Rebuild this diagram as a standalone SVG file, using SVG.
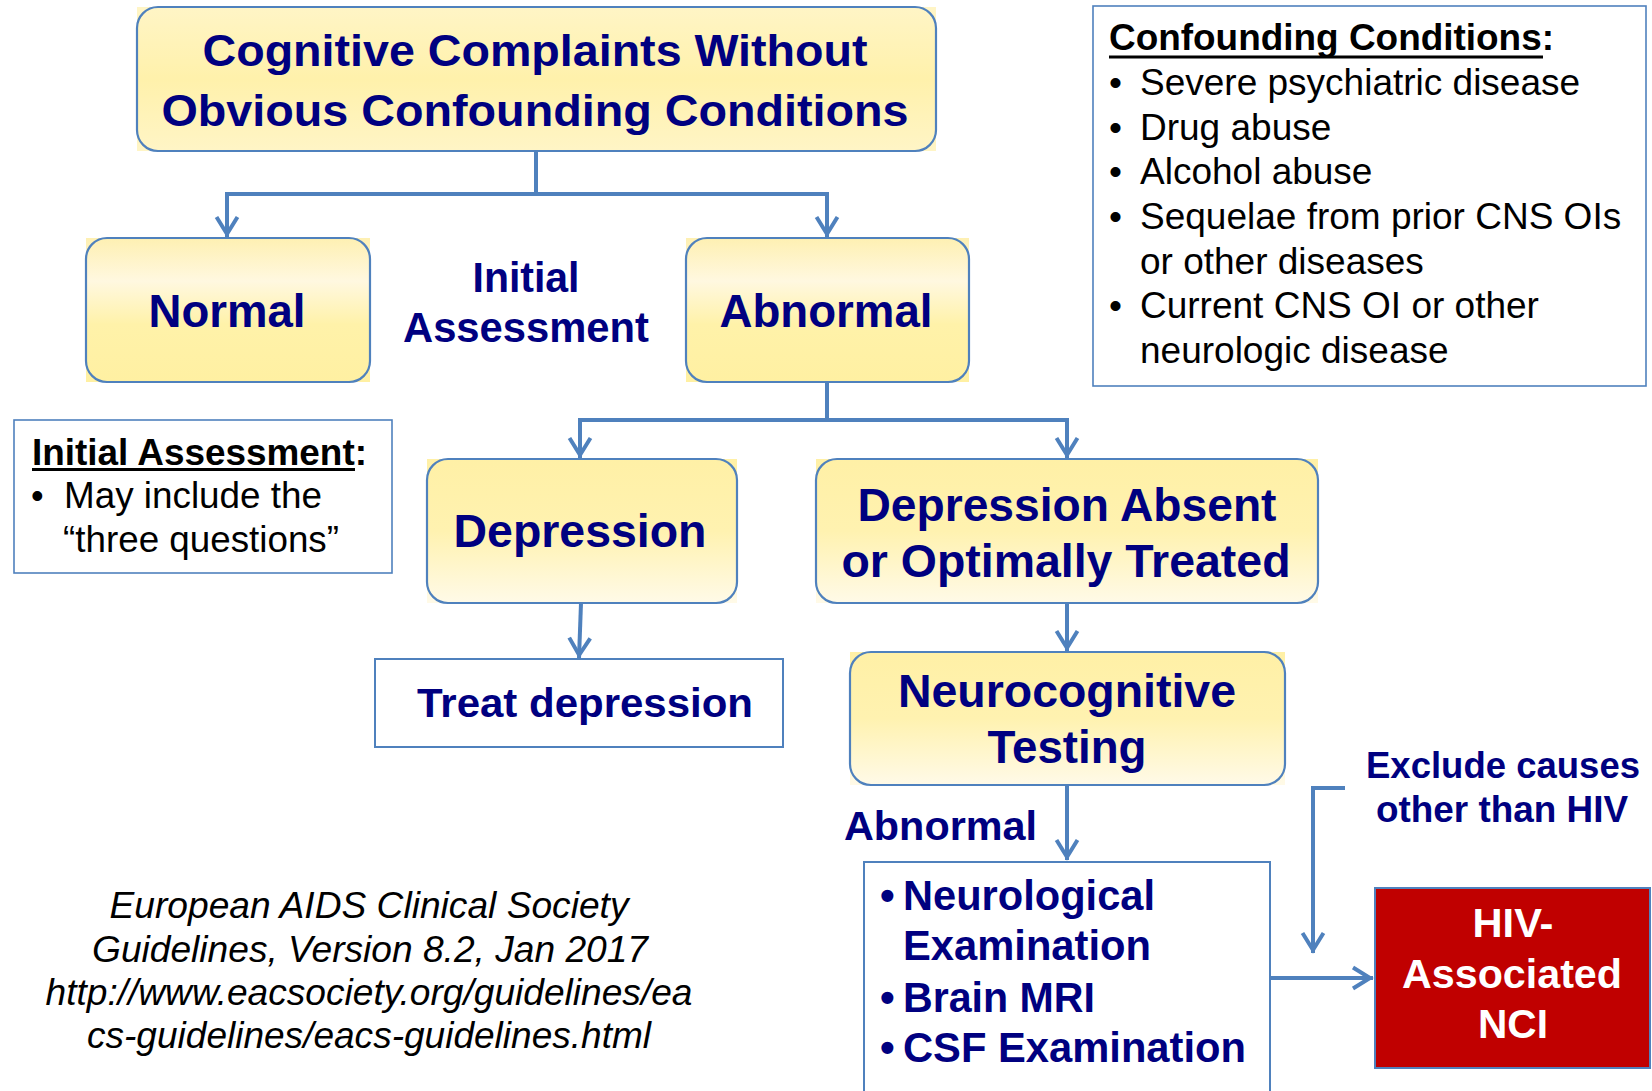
<svg xmlns="http://www.w3.org/2000/svg" width="1652" height="1091" viewBox="0 0 1652 1091">
  <defs>
    <style>
      .t { font-family: "Liberation Sans", Arial, Helvetica, sans-serif; }
      .nb { font-weight: bold; fill: #000080; text-anchor: middle; }
      .nbl { font-weight: bold; fill: #000080; }
      .blk { fill: #000000; }
      .wb { font-weight: bold; fill: #FFFFFF; text-anchor: middle; }
      .cite { font-style: italic; fill: #000000; text-anchor: middle; font-size: 37px; }
      .outline { fill: none; stroke: #4F81BD; stroke-width: 2.2; }
      .plain { fill: #FFFFFF; stroke: #4F81BD; stroke-width: 2; }
      .conn { fill: none; stroke: #4F81BD; stroke-width: 4; stroke-linejoin: miter; }
    </style>
    <linearGradient id="gTop" x1="0" y1="0" x2="0" y2="1">
      <stop offset="0" stop-color="#FFF5C6"/>
      <stop offset="0.5" stop-color="#FFF1AB"/>
      <stop offset="1" stop-color="#FFF5C6"/>
    </linearGradient>
    <linearGradient id="gMid" x1="0" y1="0" x2="0" y2="1">
      <stop offset="0" stop-color="#FEF0B2"/>
      <stop offset="0.3" stop-color="#FFF8E0"/>
      <stop offset="0.6" stop-color="#FFF2A9"/>
      <stop offset="1" stop-color="#FFF0A2"/>
    </linearGradient>
    <linearGradient id="gLow" x1="0" y1="0" x2="0" y2="1">
      <stop offset="0" stop-color="#FFF0A6"/>
      <stop offset="0.5" stop-color="#FFF2B0"/>
      <stop offset="1" stop-color="#FFFAE8"/>
    </linearGradient>
    <marker id="arr" markerUnits="userSpaceOnUse" viewBox="-22 -13 26 26" markerWidth="26" markerHeight="26" refX="0" refY="0" orient="auto">
      <path d="M-20,-10.5 L-3,0 L-20,10.5" fill="none" stroke="#4F81BD" stroke-width="4"/>
    </marker>
  </defs>

  <rect width="1652" height="1091" fill="#FFFFFF"/>

  <!-- connectors -->
  <g id="connectors">
    <path class="conn" d="M536 151 V194 H227 V237" marker-end="url(#arr)"/>
    <path class="conn" d="M534 194 H827 V237" marker-end="url(#arr)"/>
    <path class="conn" d="M827 382 V420 H580 V458" marker-end="url(#arr)"/>
    <path class="conn" d="M825 420 H1067 V458" marker-end="url(#arr)"/>
    <path class="conn" d="M581 603 L579 658" marker-end="url(#arr)"/>
    <path class="conn" d="M1067 603 V651" marker-end="url(#arr)"/>
    <path class="conn" d="M1067 785 V860" marker-end="url(#arr)"/>
    <path class="conn" d="M1270 978 H1373" marker-end="url(#arr)"/>
    <path class="conn" d="M1345 788 H1313 V953" marker-end="url(#arr)"/>
  </g>

  <!-- start node -->
  <g id="node-complaints" class="t">
    <rect x="137" y="7" width="799" height="144" fill="url(#gTop)"/>
    <rect class="outline" x="137" y="7" width="799" height="144" rx="21"/>
    <text class="nb" x="535" y="66" font-size="44" textLength="665" lengthAdjust="spacingAndGlyphs">Cognitive Complaints Without</text>
    <text class="nb" x="535" y="126" font-size="44" textLength="747" lengthAdjust="spacingAndGlyphs">Obvious Confounding Conditions</text>
  </g>

  <g id="node-normal" class="t">
    <rect x="86" y="238" width="284" height="144" fill="url(#gMid)"/>
    <rect class="outline" x="86" y="238" width="284" height="144" rx="21"/>
    <text class="nb" x="227" y="327" font-size="46" textLength="157" lengthAdjust="spacingAndGlyphs">Normal</text>
  </g>

  <g id="label-initial" class="t">
    <text class="nb" x="526" y="292" font-size="42" textLength="107" lengthAdjust="spacingAndGlyphs">Initial</text>
    <text class="nb" x="526" y="342" font-size="42" textLength="246" lengthAdjust="spacingAndGlyphs">Assessment</text>
  </g>

  <g id="node-abnormal" class="t">
    <rect x="686" y="238" width="283" height="144" fill="url(#gMid)"/>
    <rect class="outline" x="686" y="238" width="283" height="144" rx="21"/>
    <text class="nb" x="826" y="327" font-size="46" textLength="213" lengthAdjust="spacingAndGlyphs">Abnormal</text>
  </g>

  <g id="note-initial" class="t">
    <rect x="14" y="420" width="378" height="153" fill="#FFFFFF" stroke="#4F81BD" stroke-width="1.6"/>
    <text class="blk" x="32" y="465" font-size="37" font-weight="bold" textLength="335" lengthAdjust="spacingAndGlyphs">Initial Assessment:</text>
    <rect x="32" y="468" width="323" height="3" fill="#000000"/>
    <text class="blk" x="31" y="508" font-size="36">•</text>
    <text class="blk" x="64" y="508" font-size="36" textLength="258" lengthAdjust="spacingAndGlyphs">May include the</text>
    <text class="blk" x="63" y="552" font-size="36" textLength="276" lengthAdjust="spacingAndGlyphs">“three questions”</text>
  </g>

  <g id="note-confounding" class="t">
    <rect x="1093" y="6" width="553" height="380" fill="#FFFFFF" stroke="#4F81BD" stroke-width="1.6"/>
    <text class="blk" x="1109" y="50" font-size="37" font-weight="bold" textLength="445" lengthAdjust="spacingAndGlyphs">Confounding Conditions:</text>
    <rect x="1109" y="55.5" width="434" height="3" fill="#000000"/>
    <g class="blk" font-size="37">
      <text x="1109" y="95">•</text>
      <text x="1140" y="95">Severe psychiatric disease</text>
      <text x="1109" y="140">•</text>
      <text x="1140" y="140">Drug abuse</text>
      <text x="1109" y="184">•</text>
      <text x="1140" y="184">Alcohol abuse</text>
      <text x="1109" y="229">•</text>
      <text x="1140" y="229">Sequelae from prior CNS OIs</text>
      <text x="1140" y="274">or other diseases</text>
      <text x="1109" y="318">•</text>
      <text x="1140" y="318">Current CNS OI or other</text>
      <text x="1140" y="363">neurologic disease</text>
    </g>
  </g>

  <g id="node-depression" class="t">
    <rect x="427" y="459" width="310" height="144" fill="url(#gLow)"/>
    <rect class="outline" x="427" y="459" width="310" height="144" rx="21"/>
    <text class="nb" x="580" y="547" font-size="46" textLength="253" lengthAdjust="spacingAndGlyphs">Depression</text>
  </g>

  <g id="node-depression-absent" class="t">
    <rect x="816" y="459" width="502" height="144" fill="url(#gLow)"/>
    <rect class="outline" x="816" y="459" width="502" height="144" rx="21"/>
    <text class="nb" x="1067" y="521" font-size="46" textLength="419" lengthAdjust="spacingAndGlyphs">Depression Absent</text>
    <text class="nb" x="1066" y="577" font-size="46" textLength="449" lengthAdjust="spacingAndGlyphs">or Optimally Treated</text>
  </g>

  <g id="node-treat" class="t">
    <rect class="plain" x="375" y="659" width="408" height="88"/>
    <text class="nb" x="585" y="717" font-size="41" textLength="336" lengthAdjust="spacingAndGlyphs">Treat depression</text>
  </g>

  <g id="node-neurocognitive" class="t">
    <rect x="850" y="652" width="435" height="133" fill="url(#gLow)"/>
    <rect class="outline" x="850" y="652" width="435" height="133" rx="21"/>
    <text class="nb" x="1067" y="707" font-size="46" textLength="338" lengthAdjust="spacingAndGlyphs">Neurocognitive</text>
    <text class="nb" x="1067" y="763" font-size="46" textLength="159" lengthAdjust="spacingAndGlyphs">Testing</text>
  </g>

  <g id="label-abnormal" class="t">
    <text class="nbl" x="844" y="840" font-size="41" textLength="193" lengthAdjust="spacingAndGlyphs">Abnormal</text>
  </g>

  <g id="node-workup" class="t">
    <rect class="plain" x="864" y="862" width="406" height="250"/>
    <g class="nbl" font-size="42">
      <text x="880" y="910">•</text>
      <text x="903" y="910" textLength="252" lengthAdjust="spacingAndGlyphs">Neurological</text>
      <text x="903" y="960" textLength="248" lengthAdjust="spacingAndGlyphs">Examination</text>
      <text x="880" y="1012">•</text>
      <text x="903" y="1012" textLength="192" lengthAdjust="spacingAndGlyphs">Brain MRI</text>
      <text x="880" y="1062">•</text>
      <text x="903" y="1062" textLength="343" lengthAdjust="spacingAndGlyphs">CSF Examination</text>
    </g>
  </g>

  <g id="label-exclude" class="t">
    <text class="nb" x="1503" y="778" font-size="37" textLength="274" lengthAdjust="spacingAndGlyphs">Exclude causes</text>
    <text class="nb" x="1502" y="822" font-size="37" textLength="252" lengthAdjust="spacingAndGlyphs">other than HIV</text>
  </g>

  <g id="node-hand" class="t">
    <rect x="1375" y="888" width="275" height="180" fill="#C00000" stroke="#4F81BD" stroke-width="2"/>
    <text class="wb" x="1513" y="937" font-size="41" textLength="81" lengthAdjust="spacingAndGlyphs">HIV-</text>
    <text class="wb" x="1512" y="988" font-size="41" textLength="220" lengthAdjust="spacingAndGlyphs">Associated</text>
    <text class="wb" x="1513" y="1038" font-size="41" textLength="70" lengthAdjust="spacingAndGlyphs">NCI</text>
  </g>

  <g id="citation" class="t">
    <text class="cite" x="369" y="918" textLength="519" lengthAdjust="spacingAndGlyphs">European AIDS Clinical Society</text>
    <text class="cite" x="370" y="962" textLength="556" lengthAdjust="spacingAndGlyphs">Guidelines, Version 8.2, Jan 2017</text>
    <text class="cite" x="369" y="1005" textLength="647" lengthAdjust="spacingAndGlyphs">http://www.eacsociety.org/guidelines/ea</text>
    <text class="cite" x="369" y="1048" textLength="564" lengthAdjust="spacingAndGlyphs">cs-guidelines/eacs-guidelines.html</text>
  </g>
</svg>
